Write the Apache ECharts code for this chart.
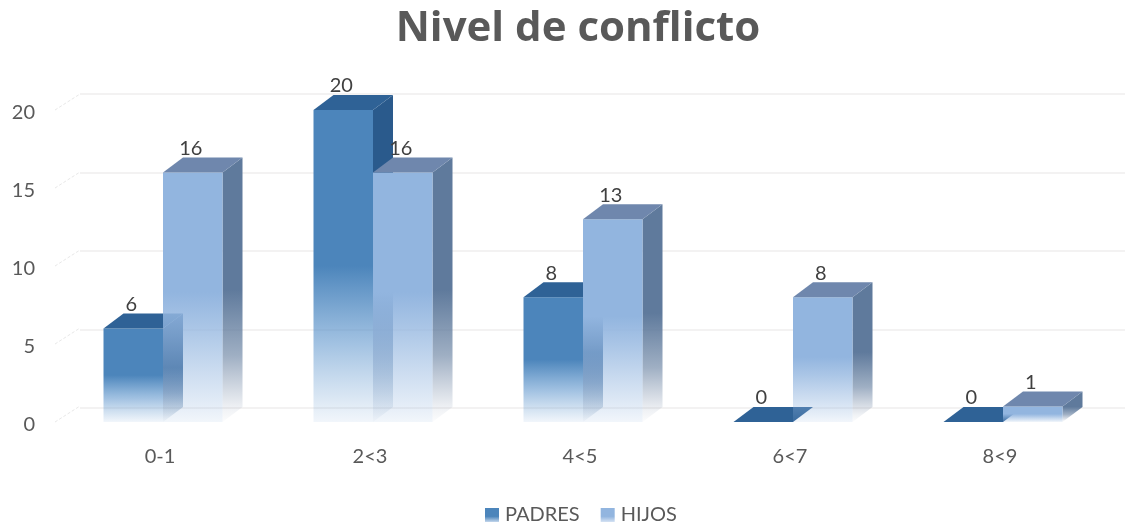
<!DOCTYPE html>
<html>
<head>
<meta charset="utf-8">
<style>html,body{margin:0;padding:0;background:#fff}#c{width:1125px;height:524px}</style>
<script src="https://cdn.jsdelivr.net/npm/echarts@6/dist/echarts.min.js"></script>
</head>
<body>
<div id="c"></div>
<script>
const categories = ['0-1', '2<3', '4<5', '6<7', '8<9'];
const padres = [6, 20, 8, 0, 0];
const hijos = [16, 16, 13, 8, 1];
const yTicks = [0, 5, 10, 15, 20];

const DX = 20, DY = 15, BAR_RATIO = 59.5 / 210;
const FONT = 'Lato, "Open Sans", sans-serif';

function grad(stops) {
  return new echarts.graphic.LinearGradient(0, 0, 0, 1,
    stops.map(s => ({ offset: s[0], color: s[1] })));
}
const PAL = [
  {
    front: grad([[0,'rgba(76,133,187,1)'],[0.5,'rgba(76,133,187,1)'],[0.6,'rgba(84,140,194,0.84)'],[0.75,'rgba(95,150,205,0.58)'],[0.92,'rgba(110,160,210,0.26)'],[1,'rgba(120,165,215,0.1)']]),
    side: grad([[0,'rgba(42,90,140,1)'],[0.5,'rgba(42,90,140,1)'],[0.72,'rgba(50,95,145,0.62)'],[0.95,'rgba(60,105,150,0.12)'],[1,'rgba(60,105,150,0.02)']]),
    top: '#2f6296', sign: -1
  },
  {
    front: grad([[0,'rgba(146,181,223,1)'],[0.48,'rgba(146,181,223,1)'],[0.62,'rgba(146,181,223,0.78)'],[0.78,'rgba(146,181,223,0.5)'],[0.93,'rgba(146,181,223,0.25)'],[1,'rgba(146,181,223,0.12)']]),
    side: grad([[0,'rgba(95,122,156,1)'],[0.5,'rgba(95,122,156,1)'],[0.75,'rgba(95,122,156,0.6)'],[0.95,'rgba(110,130,160,0.1)'],[1,'rgba(110,130,160,0.02)']]),
    top: '#6f87ad', sign: 1
  }
];

function barItem(params, api) {
  const cat = api.value(0), v = api.value(1);
  const base = api.coord([cat, 0]), top = api.coord([cat, v]);
  const w = api.size([1, 0])[0] * BAR_RATIO;
  const p = PAL[params.seriesIndex];
  const x0 = p.sign < 0 ? base[0] - w : base[0], x1 = x0 + w;
  const yb = base[1], yt = top[1];
  const poly = (points, fill) => ({ type: 'polygon', shape: { points }, style: { fill }, silent: true });
  const children = [];
  if (v > 0) {
    children.push(poly([[x1, yt], [x1 + DX, yt - DY], [x1 + DX, yb - DY], [x1, yb]], p.side));
    children.push(poly([[x0, yt], [x1, yt], [x1, yb], [x0, yb]], p.front));
  }
  children.push(poly([[x0, yt], [x0 + DX, yt - DY], [x1 + DX, yt - DY], [x1, yt]], p.top));
  children.push({
    type: 'text', silent: true, z2: 10,
    style: { text: String(v), x: (x0 + x1) / 2 - 2, y: yt - DY + 1, align: 'center', verticalAlign: 'bottom',
             font: '20px ' + FONT, fill: '#404040' }
  });
  return { type: 'group', children };
}

function wallTick(params, api) {
  const v = api.value(0);
  const c = api.coord([0, v]);
  const half = api.size([1, 0])[0] / 2;
  const x = c[0] - half - 3;
  return {
    type: 'line', silent: true,
    shape: { x1: x, y1: c[1], x2: x + 25, y2: c[1] - 16 },
    style: { stroke: '#e8e8e8', lineWidth: 1, lineDash: [3, 2] }
  };
}

const chart = echarts.init(document.getElementById('c'), null, { renderer: 'canvas' });
chart.setOption({
  animation: false,
  backgroundColor: '#fff',
  title: {
    text: 'Nivel de conflicto', left: 573, top: 3, textAlign: 'center',
    textStyle: { fontFamily: '"Open Sans", sans-serif', fontWeight: 'bold', fontSize: 42, color: '#595959' }
  },
  legend: {
    left: 480, top: 500, itemWidth: 14, itemHeight: 14, itemGap: 21, icon: 'rect',
    selectedMode: false,
    data: [
      { name: 'PADRES', itemStyle: { color: grad([[0,'#4c85bb'],[0.6,'#4c85bb'],[1,'#c3d6ec']]) } },
      { name: 'HIJOS', itemStyle: { color: grad([[0,'#92b5df'],[0.6,'#92b5df'],[1,'#d5e2f3']]) } }
    ],
    textStyle: { fontFamily: FONT, fontSize: 20, color: '#595959', padding: [0, 0, 0, 1] }
  },
  grid: [
    { left: 58, right: 17, top: 110, bottom: 102 },
    { left: 80, right: 0, top: 94, bottom: 116 }
  ],
  xAxis: [
    { type: 'category', gridIndex: 0, data: categories, boundaryGap: true,
      axisLine: { show: false }, axisTick: { show: false }, splitLine: { show: false },
      axisLabel: { fontFamily: FONT, fontSize: 20, color: '#595959', margin: 25, padding: [0, 6, 0, 0] } },
    { type: 'category', gridIndex: 1, data: categories, show: false }
  ],
  yAxis: [
    { type: 'value', gridIndex: 0, min: 0, max: 20, interval: 5,
      axisLine: { show: false }, axisTick: { show: false }, splitLine: { show: false },
      axisLabel: { fontFamily: FONT, fontSize: 20, color: '#595959', margin: 23, verticalAlign: 'top', lineHeight: 6 } },
    { type: 'value', gridIndex: 1, min: 0, max: 20, interval: 5,
      axisLine: { show: false }, axisTick: { show: false }, axisLabel: { show: false },
      splitLine: { show: true, lineStyle: { color: '#f3f2f2', width: 2 } } }
  ],
  series: [
    { name: 'PADRES', type: 'custom', xAxisIndex: 0, yAxisIndex: 0, renderItem: barItem, z: 3,
      encode: { x: 0, y: 1 }, data: padres.map((v, i) => [i, v]), clip: false },
    { name: 'HIJOS', type: 'custom', xAxisIndex: 0, yAxisIndex: 0, renderItem: barItem, z: 3,
      encode: { x: 0, y: 1 }, data: hijos.map((v, i) => [i, v]), clip: false },
    { name: 'walls', type: 'custom', xAxisIndex: 0, yAxisIndex: 0, renderItem: wallTick, z: 1,
      encode: { y: 0 }, data: yTicks.map(v => [v]), clip: false }
  ]
});
</script>
</body>
</html>
